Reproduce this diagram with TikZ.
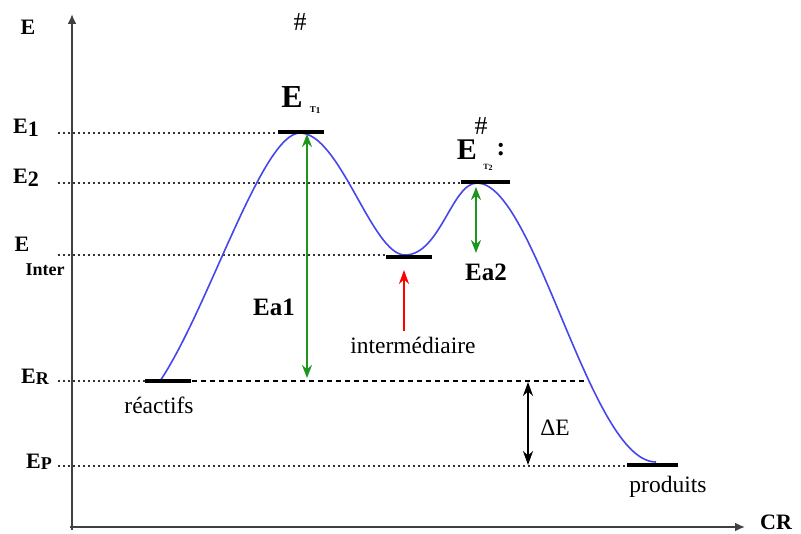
\documentclass[tikz,border=0pt]{standalone}
\usepackage{fontspec}
\setmainfont{Liberation Serif}
\usetikzlibrary{arrows.meta}
\definecolor{curveblue}{RGB}{70,70,235}
\definecolor{eagreen}{RGB}{30,150,30}
\tikzset{
  lvl/.style={line width=4.5pt,black},
  dotl/.style={line width=1.4pt,dash pattern=on 2pt off 3pt,black!80},
  dashl/.style={line width=1.1pt,dash pattern=on 5pt off 4pt,black},
  axis/.style={line width=2.2pt,black!75,-{Latex[length=10pt,width=9pt]}},
  lab/.style={font=\fontsize{22}{24}\selectfont\bfseries,inner sep=0pt},
  ealab/.style={font=\fontsize{25}{28}\selectfont\bfseries,inner sep=0pt},
  txt/.style={font=\fontsize{23.5}{26}\selectfont,inner sep=0pt},
  grn/.style={eagreen,line width=2.6pt,{Stealth[length=13pt,width=10pt]}-{Stealth[length=13pt,width=10pt]}},
  blk/.style={black,line width=2pt,{Stealth[length=14pt,width=10pt]}-{Stealth[length=14pt,width=10pt]}}
}
\begin{document}
\begin{tikzpicture}[x=1pt,y=-1pt]
\useasboundingbox (0,0) rectangle (801,534);
% axes
\coordinate (O) at (72,530);
\coordinate (Ytop) at (72,14);
\coordinate (Xend) at (745,527);
\coordinate (Xstart) at (70,527);
\draw[axis] (O) -- (Ytop);
\draw[axis] (Xstart) -- (Xend);
\node[lab] (Elab) at (28,27) {E};
\node[lab] (CR) at (776,522) {CR};
% level labels
\node[lab] (E1) at (26,128) {E\raisebox{-0.3ex}{1}};
\node[lab] (E2) at (26,178) {E\raisebox{-0.3ex}{2}};
\node[lab] (Ei) at (22,244) {E};
\node[lab,font=\fontsize{18}{20}\selectfont\bfseries] (Einter) at (45,270) {Inter};
\node[lab] (ER) at (35,377) {E\raisebox{-0.1ex}{\fontsize{18}{18}\selectfont R}};
\node[lab] (EP) at (39,462) {E\raisebox{-0.1ex}{\fontsize{18}{18}\selectfont P}};
% dotted lines
\coordinate (d1a) at (58,133); \coordinate (d1b) at (279,133);
\coordinate (d2a) at (58,183); \coordinate (d2b) at (462,183);
\coordinate (dia) at (58,255); \coordinate (dib) at (387,255);
\coordinate (dra) at (58,381); \coordinate (drb) at (146,381);
\coordinate (dpa) at (58,466); \coordinate (dpb) at (628,466);
\draw[dotl] (d1a) -- (d1b);
\draw[dotl] (d2a) -- (d2b);
\draw[dotl] (dia) -- (dib);
\draw[dotl] (dra) -- (drb);
\draw[dotl] (dpa) -- (dpb);
\coordinate (dsa) at (192,381); \coordinate (dsb) at (586,381);
\draw[dashl] (dsa) -- (dsb);
% level bars
\coordinate (bt1a) at (278,132); \coordinate (bt1b) at (324,132);
\coordinate (bt2a) at (461,182); \coordinate (bt2b) at (510,182);
\coordinate (bia) at (386,257); \coordinate (bib) at (432,257);
\coordinate (bra) at (145,381); \coordinate (brb) at (191,381);
\coordinate (bpa) at (627,465); \coordinate (bpb) at (678,465);
% curve
\coordinate (c0) at (160,381);
\coordinate (c1) at (300,133);
\coordinate (c2) at (405,255);
\coordinate (c3) at (477,183);
\coordinate (c4) at (656,462);
\draw[curveblue,line width=1.6pt] (c0) .. controls (208,310) and (262,133) .. (c1)
  .. controls (340,133) and (372,255) .. (c2)
  .. controls (440,255) and (452,183) .. (c3)
  .. controls (535,183) and (590,462) .. (c4);
\draw[lvl] (bt1a) -- (bt1b);
\draw[lvl] (bt2a) -- (bt2b);
\draw[lvl] (bia) -- (bib);
\draw[lvl] (bra) -- (brb);
\draw[lvl] (bpa) -- (bpb);
% transition state labels
\node[inner sep=0pt,font=\fontsize{26}{28}\selectfont] (h1) at (300,22) {\#};
\node[inner sep=0pt,font=\fontsize{32}{34}\selectfont\bfseries] (ET1) at (292,97) {E};
\node[inner sep=0pt,font=\fontsize{9}{10}\selectfont\bfseries] (T1) at (315,110) {T\raisebox{-0.3ex}{1}};
\node[inner sep=0pt,font=\fontsize{26}{28}\selectfont] (h2) at (481,126) {\#};
\node[inner sep=0pt,font=\fontsize{30}{32}\selectfont\bfseries] (ET2) at (467,150) {E};
\node[inner sep=0pt,font=\fontsize{26}{28}\selectfont\bfseries] (col) at (501,150) {:};
\node[inner sep=0pt,font=\fontsize{8}{9}\selectfont\bfseries] (T2) at (488,167) {T\raisebox{-0.3ex}{2}};
% Ea arrows
\coordinate (a1t) at (307,134); \coordinate (a1b) at (307,378);
\draw[grn] (a1t) -- (a1b);
\node[ealab] (Ea1) at (274,307) {Ea1};
\coordinate (a2t) at (476,187); \coordinate (a2b) at (476,253);
\draw[grn] (a2t) -- (a2b);
\node[ealab] (Ea2) at (486,272) {Ea2};
% intermediate arrow
\coordinate (ira) at (404,331); \coordinate (irb) at (404,270);
\draw[red,line width=2pt,-{Stealth[length=14pt,width=10pt]}] (ira) -- (irb);
\node[txt] (inter) at (413,345) {intermédiaire};
% Delta E
\coordinate (dea) at (528,382); \coordinate (deb) at (528,465);
\draw[blk] (dea) -- (deb);
\node[txt] (dE) at (555,428) {ΔE};
\node[txt] (reac) at (159,405) {réactifs};
\node[txt] (prod) at (668,487) {produits};
\end{tikzpicture}
\end{document}
